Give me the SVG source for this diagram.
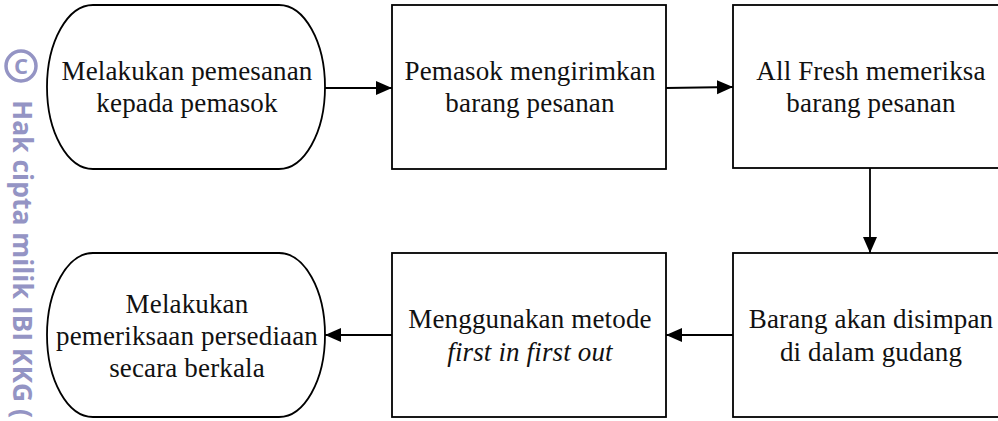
<svg xmlns="http://www.w3.org/2000/svg" width="998" height="421" viewBox="0 0 998 421">
<style>
.box{fill:#fff;stroke:#000;stroke-width:1.8}
.lbl{font-size:27px;fill:#111;text-anchor:middle;letter-spacing:0.15px}
.it{font-style:italic}
.edge{stroke:#000;stroke-width:1.8;fill:none;marker-end:url(#ah)}
.wm{font-weight:bold;fill:#9494c4}
</style>
<defs>
<marker id="ah" markerUnits="userSpaceOnUse" markerWidth="17" markerHeight="15" refX="16" refY="7" orient="auto">
<path d="M0,0 L16,7 L0,14 z" fill="#000"/>
</marker>
</defs>
<rect width="998" height="421" fill="#fff"/>
<g id="watermark" font-family="Open Sans, Liberation Sans, sans-serif">
<circle cx="21" cy="66" r="15" fill="none" stroke="#9494c4" stroke-width="3.5"/>
<text class="wm" x="21" y="74" font-size="22" text-anchor="middle">C</text>
<text class="wm" transform="translate(13,100) rotate(90)" font-size="26" textLength="318" lengthAdjust="spacingAndGlyphs">Hak cipta milik IBI KKG (</text>
</g>
<g id="connectors">
<line class="edge" x1="325" y1="88" x2="392" y2="88"/>
<line class="edge" x1="666" y1="88" x2="733" y2="87"/>
<line class="edge" x1="870" y1="168" x2="870" y2="253"/>
<line class="edge" x1="733" y1="335" x2="666" y2="335"/>
<line class="edge" x1="392" y1="335" x2="325" y2="335"/>
</g>
<g id="nodes" font-family="Liberation Serif, Times New Roman, serif">
<g id="n1">
<rect class="box" x="47" y="5" width="278" height="164" rx="46" ry="82"/>
<text class="lbl" x="187" y="80">Melakukan pemesanan</text>
<text class="lbl" x="187" y="112">kepada pemasok</text>
</g>
<g id="n2">
<rect class="box" x="392" y="5" width="274" height="164"/>
<text class="lbl" x="530" y="80">Pemasok mengirimkan</text>
<text class="lbl" x="530" y="112">barang pesanan</text>
</g>
<g id="n3">
<rect class="box" x="733" y="5" width="274" height="163"/>
<text class="lbl" x="871" y="80">All Fresh memeriksa</text>
<text class="lbl" x="871" y="112">barang pesanan</text>
</g>
<g id="n4">
<rect class="box" x="733" y="253" width="274" height="164"/>
<text class="lbl" x="871" y="328">Barang akan disimpan</text>
<text class="lbl" x="871" y="361">di dalam gudang</text>
</g>
<g id="n5">
<rect class="box" x="392" y="253" width="274" height="164"/>
<text class="lbl" x="530" y="328">Menggunakan metode</text>
<text class="lbl it" x="530" y="361">first in first out</text>
</g>
<g id="n6">
<rect class="box" x="47" y="253" width="278" height="164" rx="46" ry="82"/>
<text class="lbl" x="187" y="313">Melakukan</text>
<text class="lbl" x="187" y="345">pemeriksaan persediaan</text>
<text class="lbl" x="187" y="377">secara berkala</text>
</g>
</g>
</svg>
